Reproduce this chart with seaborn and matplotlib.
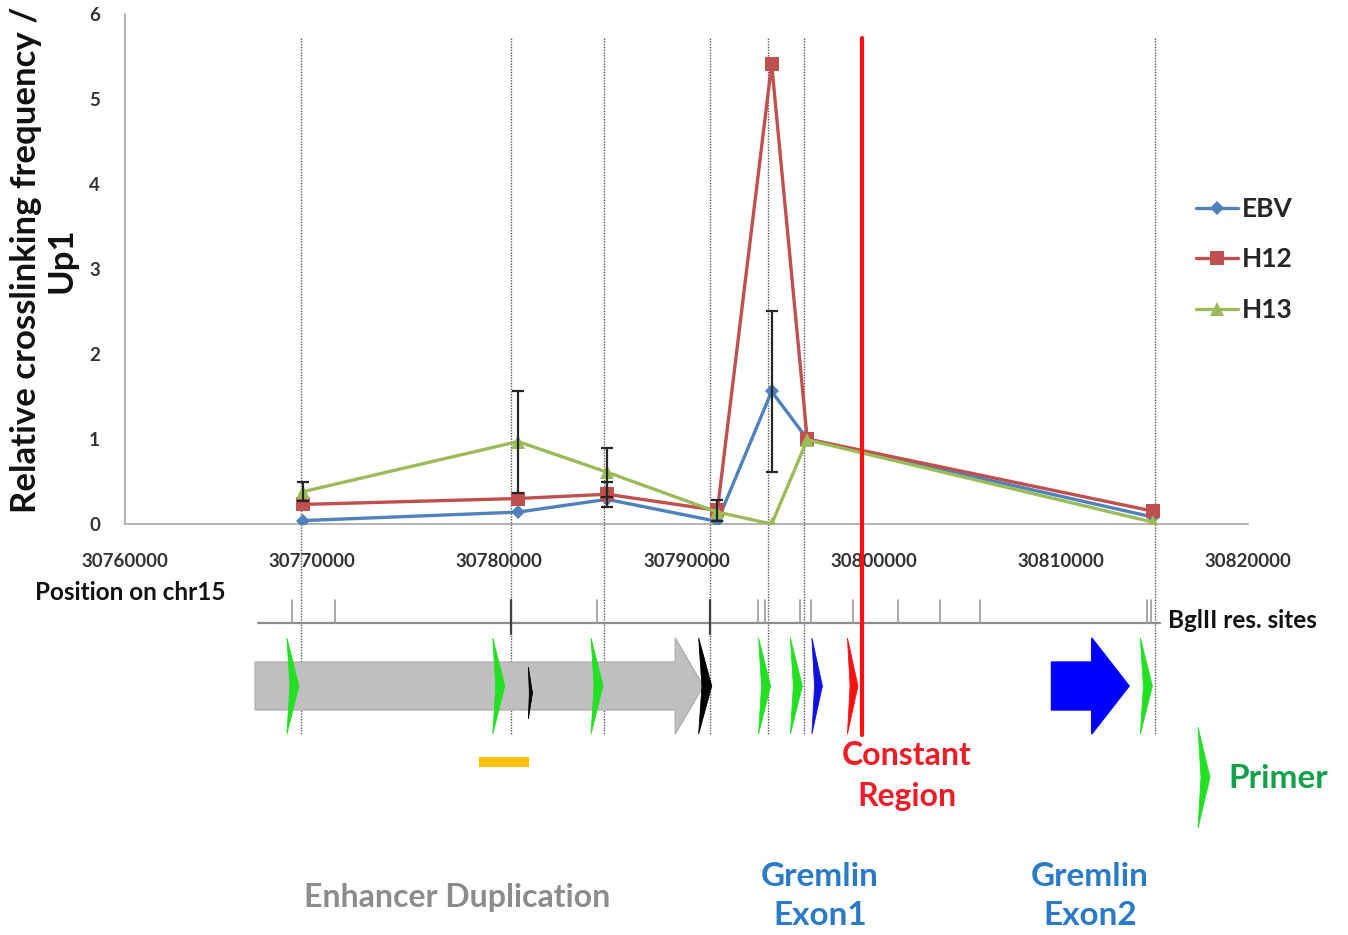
import numpy as np
import pandas as pd
import matplotlib
matplotlib.use('Agg')
import matplotlib.pyplot as plt
import seaborn as sns
from matplotlib.patches import Polygon, Rectangle
from matplotlib.lines import Line2D

# ---------------- data ----------------
positions = [30769500, 30781000, 30785750, 30791650, 30794550, 30796450, 30814950]
ebv = [0.04, 0.14, 0.29, 0.03, 1.56, 1.00, 0.08]
h12 = [0.23, 0.30, 0.35, 0.16, 5.41, 1.00, 0.15]
h13 = [0.38, 0.97, 0.61, 0.14, 0.00, 0.99, 0.02]
series_names = ['EBV', 'H12', 'H13']
series_colors = ['#4F81BD', '#C0504D', '#9BBB59']
series_markers = ['D', 's', '^']

err_pos = [30769500, 30781000, 30785750, 30785750, 30791650, 30794550]
err_val = [0.38, 0.97, 0.61, 0.35, 0.16, 1.56]
err_size = [0.11, 0.60, 0.29, 0.15, 0.12, 0.95]

x_ticks = [30760000, 30770000, 30780000, 30790000, 30800000, 30810000, 30820000]
x_tick_labels = [str(v) for v in x_ticks]
y_ticks = [0, 1, 2, 3, 4, 5, 6]

# annotation track (genomic coordinates)
fragment_lines = [30769400, 30780600, 30785600, 30791250, 30794350, 30796300, 30815050]
constant_region_pos = 30799400
bgl2_sites = [30768900, 30771200, 30780600, 30785200, 30791250, 30793800, 30794200,
              30796050, 30796650, 30798900, 30801300, 30803550, 30805700, 30814600, 30814800]
bgl2_dark = [30780600, 30791250]
bgl2_track = [30767100, 30815300]
enhancer_arrow = [30766950, 30789400, 30790900]   # start, head start, tip
exon2_arrow = [30809500, 30811650, 30813650]
orange_bar = [30778900, 30781600]
primers_green = [30768650, 30779650, 30784900, 30793850, 30795550, 30814250]
primers_black = [30790650]
primer_black_small = [30781550]
exon1_marker = [30796700]
constant_marker = [30798600]

W, H = 1348, 935
def fx(px): return px / W
def fy(py): return 1 - py / H

sns.set_theme(style='white')
plt.rcParams['font.family'] = ['Lato', 'DejaVu Sans']

fig = plt.figure(figsize=(W / 100, H / 100), dpi=100)
L, B, AW, AH = fx(125), fy(524), 1123 / W, 510 / H

# track axes (behind), x in genomic coords, y in pixel rows
ax2 = fig.add_axes([L, 0, AW, 1])
ax2.set_xlim(x_ticks[0], x_ticks[-1])
ax2.set_ylim(H, 0)
ax2.axis('off')
ax2.set_zorder(0)

ax = fig.add_axes([L, B, AW, AH])
ax.set_zorder(1)
ax.patch.set_alpha(0)

# --- data lines ---
df = pd.DataFrame({
    'pos': positions * 3,
    'val': ebv + h12 + h13,
    'series': sum([[n] * len(positions) for n in series_names], []),
})
sns.lineplot(data=df, x='pos', y='val', hue='series', style='series',
             palette=dict(zip(series_names, series_colors)),
             markers=dict(zip(series_names, series_markers)), dashes=False,
             linewidth=2.4, markeredgewidth=0, legend=False, ax=ax, sort=False, zorder=3)
msizes = [7.5, 10, 10]
for ln, ms in zip(ax.lines[:3], msizes):
    ln.set_markersize(ms)

ax.errorbar(err_pos, err_val, yerr=err_size, fmt='none', ecolor='#262626',
            elinewidth=1.6, capsize=4, capthick=1.6, zorder=4)

ax.set_xlim(x_ticks[0], x_ticks[-1])
ax.set_ylim(0, 6)
ax.set_xticks(x_ticks)
ax.set_xticklabels(x_tick_labels)
ax.set_yticks(y_ticks)
for s in ['top', 'right']:
    ax.spines[s].set_visible(False)
for s in ['left', 'bottom']:
    ax.spines[s].set_color('#A6A6A6')
    ax.spines[s].set_linewidth(1.2)
ax.tick_params(axis='both', which='major', direction='out', length=6, width=1.2,
               color='#A6A6A6', labelsize=13.5, labelcolor='#333333')
ax.tick_params(axis='x', pad=15)
ax.tick_params(axis='y', pad=12)
for t in ax.get_xticklabels() + ax.get_yticklabels():
    t.set_fontweight('bold')
ax.set_xlabel('')
ax.set_ylabel('')

# constant region red line (through chart and track)
ax.plot([constant_region_pos, constant_region_pos], [(524 - 38) / 85, (524 - 735) / 85],
        color='#FF1010', lw=3, clip_on=False, zorder=5)

# fragment dotted lines
for xp in fragment_lines:
    ax2.plot([xp, xp], [38, 735], color='#555555', lw=1.0, ls=(0, (1, 1)), zorder=1)

# BglII track
ax2.plot(bgl2_track, [623, 623], color='#8C8C8C', lw=1.6, zorder=2)
for xp in bgl2_sites:
    dark = xp in bgl2_dark
    ax2.plot([xp, xp], [600, 634 if dark else 623], color='#404040' if dark else '#9A9A9A',
             lw=1.6 if dark else 1.2, zorder=2)

def arrow(a, color, ec):
    x0, xh, xt = a
    pts = [(x0, 662), (xh, 662), (xh, 638), (xt, 686), (xh, 734), (xh, 710), (x0, 710)]
    ax2.add_patch(Polygon(pts, closed=True, fc=color, ec=ec, lw=1, zorder=2))

arrow(enhancer_arrow, '#BFBFBF', '#B0B0B0')
arrow(exon2_arrow, '#0000FF', '#0000FF')

pw = 640
def primer(x0, color, w=pw, top=638, bot=734):
    mid = (top + bot) / 2
    pts = [(x0, top), (x0 + w, mid), (x0, bot), (x0 + w * 0.25, mid)]
    ax2.add_patch(Polygon(pts, closed=True, fc=color, ec=color, lw=0.6, zorder=3))

for xp in primers_green:
    primer(xp, '#22E022')
for xp in primers_black:
    primer(xp, '#000000', w=700)
for xp in primer_black_small:
    primer(xp, '#000000', w=220, top=667, bot=719)
for xp in exon1_marker:
    primer(xp, '#1010E0', w=560)
for xp in constant_marker:
    primer(xp, '#FF1010', w=560)

ax2.add_patch(Rectangle((orange_bar[0], 757), orange_bar[1] - orange_bar[0], 10,
                        fc='#FFC000', ec='none', zorder=2))

# primer legend glyph (figure coords)
gx, gt, gb = 1198, 727, 828
fig.patches.append(Polygon([(fx(gx), fy(gt)), (fx(gx + 12), fy((gt + gb) / 2)), (fx(gx), fy(gb)),
                            (fx(gx + 3), fy((gt + gb) / 2))], closed=True, transform=fig.transFigure,
                           fc='#22E022', ec='#22E022', lw=0.6))

# --- texts ---
bold = dict(fontweight='bold')
fig.text(fx(44), fy(260), 'Relative crosslinking frequency /\nUp1', rotation=90,
         ha='center', va='center', multialignment='center', fontsize=25,
         linespacing=1.12, color='#111111', **bold)
fig.text(fx(35), fy(593), 'Position on chr15', ha='left', va='center', fontsize=17.5,
         color='#111111', **bold)
fig.text(fx(1168), fy(620), 'BglII res. sites', ha='left', va='center', fontsize=17.5,
         color='#111111', **bold)
fig.text(fx(907), fy(776), 'Constant\nRegion', ha='center', va='center', fontsize=23,
         linespacing=1.52, color='#EE1C25', **bold)
fig.text(fx(820), fy(896), 'Gremlin\nExon1', ha='center', va='center', fontsize=24,
         linespacing=1.42, color='#2A7AC8', **bold)
fig.text(fx(1090), fy(896), 'Gremlin\nExon2', ha='center', va='center', fontsize=24,
         linespacing=1.42, color='#2A7AC8', **bold)
fig.text(fx(457), fy(897), 'Enhancer Duplication', ha='center', va='center', fontsize=23,
         color='#8C8C8C', **bold)
fig.text(fx(1228), fy(779), 'Primer', ha='left', va='center', fontsize=24,
         color='#12A04A', **bold)

# legend
handles = [Line2D([0], [0], color=c, marker=m, lw=2.4, markersize=ms, markeredgewidth=0)
           for c, m, ms in zip(series_colors, series_markers, msizes)]
leg = ax.legend(handles, series_names, loc='upper left', bbox_to_anchor=(fx(1196), fy(197)),
                bbox_transform=fig.transFigure, frameon=False,
                handlelength=1.6, handletextpad=0.15, labelspacing=1.0,
                borderaxespad=0, borderpad=0, prop={'weight': 'bold', 'size': 19})

fig.savefig('out.png', dpi=100)
